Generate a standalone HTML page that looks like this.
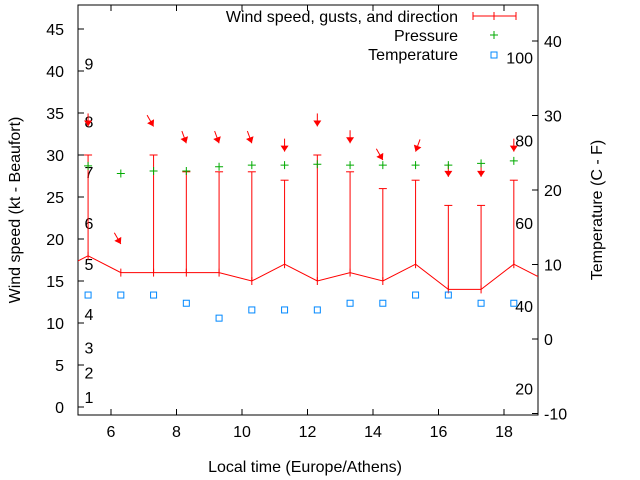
<!DOCTYPE html>
<html><head><meta charset="utf-8">
<style>
html,body{margin:0;padding:0;background:#fff;}
svg{display:block;font-family:"Liberation Sans",sans-serif;}
</style></head>
<body>
<svg id="chart" width="640" height="480" viewBox="0 0 640 480" xmlns="http://www.w3.org/2000/svg"></svg>
<script>
const hours=[4.3,5.3,6.3,7.3,8.3,9.3,10.3,11.3,12.3,13.3,14.3,15.3,16.3,17.3,18.3,19.3];
const windSpeed=[16,18,16,16,16,16,15,17,15,16,15,17,14,14,17,15];
const gusts=[null,30,null,30,28,28,28,27,30,28,26,27,24,24,27,null];
const direction=[null,0,330,330,340,340,340,0,0,0,330,20,0,0,0,null];
const pressure=[null,28.7,27.8,28.1,28.1,28.6,28.8,28.8,28.9,28.8,28.8,28.8,28.8,29.0,29.3,null];
const temperature=[null,5.9,5.9,5.9,4.8,2.8,3.9,3.9,3.9,4.8,4.8,5.9,5.9,4.8,4.8,null];
const xTicks=[6,8,10,12,14,16,18];
const yTicks=[0,5,10,15,20,25,30,35,40,45];
const y2Ticks=[-10,0,10,20,30,40];
const beaufort=[1,2,3,4,5,6,7,8,9];
const beaufortPos=[1.2,4.1,7.1,11.1,17,21.9,28,34,40.9];
const fahrenheit=[20,40,60,80,100];

const L=78,R=538,T=5,B=415;
const FS=16;
const X=h=>78.25+(h-5)*32.75;
const Y=v=>407-v*8.4;
const Y2=c=>339-c*7.45;
const svg=document.getElementById('chart');
const NS='http://www.w3.org/2000/svg';
function add(tag,attrs,parent,text){const e=document.createElementNS(NS,tag);for(const k in attrs)e.setAttribute(k,attrs[k]);if(text!==undefined)e.textContent=text;(parent||svg).appendChild(e);return e;}

const defs=add('defs',{});
const cp=add('clipPath',{id:'clip'},defs);
add('rect',{x:L,y:T,width:R-L,height:B-T},cp);

const frame=add('rect',{x:L,y:T,width:R-L,height:B-T,fill:'none',stroke:'#000','stroke-width':1});



const gx=add('g',{});


xTicks.forEach(t=>{
  const x=X(t);
  add('line',{x1:x,y1:B,x2:x,y2:B-6,stroke:'#000'},gx);
  add('line',{x1:x,y1:T,x2:x,y2:T+6,stroke:'#000'},gx);
  const tx=add('text',{x:x,y:B+22,'font-size':FS,'text-anchor':'middle'},gx,String(t));
  
  
});
const gy=add('g',{});


yTicks.forEach(t=>{
  const y=Y(t);
  add('line',{x1:L,y1:y,x2:L+6,y2:y,stroke:'#000'},gy);
  const tx=add('text',{x:64,y:y+6,'font-size':FS,'text-anchor':'end'},gy,String(t));
  
  
});
const gy2=add('g',{});


y2Ticks.forEach(t=>{
  const y=Y2(t);
  add('line',{x1:R,y1:y,x2:R-6,y2:y,stroke:'#000'},gy2);
  const tx=add('text',{x:544,y:y+6,'font-size':FS,'text-anchor':'start'},gy2,String(t));
  
  
});
beaufort.forEach((b,i)=>{
  const tx=add('text',{x:89,y:Y(beaufortPos[i])+6,'font-size':FS,'text-anchor':'middle'},null,String(b));
  
  
});
fahrenheit.forEach(f=>{
  const c=(f-32)*5/9;
  const tx=add('text',{x:533,y:Y2(c)+6,'font-size':FS,'text-anchor':'end'},null,String(f));
  
  
});
let t1=add('text',{x:305,y:472,'font-size':FS,'text-anchor':'middle'},null,'Local time (Europe/Athens)');


t1=add('text',{x:0,y:0,'font-size':FS,'text-anchor':'middle',transform:'translate(20,210) rotate(-90)'},null,'Wind speed (kt - Beaufort)');


t1=add('text',{x:0,y:0,'font-size':FS,'text-anchor':'middle',transform:'translate(602,210) rotate(-90)'},null,'Temperature (C - F)');



const g=add('g',{'clip-path':'url(#clip)'});
const pts=hours.map((h,i)=>X(h)+','+Y(windSpeed[i])).join(' ');
const wl=add('polyline',{points:pts,fill:'none',stroke:'#f00','stroke-width':1},g);


hours.forEach((h,i)=>{
  const x=X(h);
  const tk=add('line',{x1:x,y1:Y(windSpeed[i])-4,x2:x,y2:Y(windSpeed[i])+4,stroke:'#f00'},g);
  
  
  if(gusts[i]!=null){
    const gl=add('line',{x1:x,y1:Y(windSpeed[i]),x2:x,y2:Y(gusts[i]),stroke:'#f00'},g);
    
    
    add('line',{x1:x-4,y1:Y(gusts[i]),x2:x+4,y2:Y(gusts[i]),stroke:'#f00'},g);
  }
  if(direction[i]!=null){
    const base=gusts[i]!=null?gusts[i]:windSpeed[i];
    const hx=x, hy=Y(base+3.4);
    const a=direction[i]*Math.PI/180;
    const dx=-Math.sin(a), dy=Math.cos(a);
    const len=13;
    const sx=hx-dx*len, sy=hy-dy*len;
    const ag=add('g',{},g);
    
    
    add('line',{x1:sx,y1:sy,x2:hx,y2:hy,stroke:'#f00'},ag);
    const px=-dy,py=dx;
    const bx=hx-dx*6,by=hy-dy*6;
    add('polygon',{points:`${hx},${hy} ${bx+px*4},${by+py*4} ${bx-px*4},${by-py*4}`,fill:'#f00'},ag);
  }
  if(pressure[i]!=null){
    const y=Y(pressure[i]);
    const pg=add('path',{d:`M${x-4},${y}H${x+4}M${x},${y-4}V${y+4}`,stroke:'#0a0','stroke-width':1},g);
    
    
  }
  if(temperature[i]!=null){
    const y=Y2(temperature[i]);
    const sq=add('rect',{x:x-3,y:y-3,width:6,height:6,fill:'none',stroke:'#08f','stroke-width':1},g);
    
    
  }
});

const lg=add('g',{});


let e=add('text',{x:458,y:22,'font-size':FS,'text-anchor':'end'},lg,'Wind speed, gusts, and direction');


add('path',{d:'M473,16H516M473,12V20M494,12V20M516,12V20',stroke:'#f00'},lg);
e=add('text',{x:458,y:41,'font-size':FS,'text-anchor':'end'},lg,'Pressure');


add('path',{d:'M490,35H498M494,31V39',stroke:'#0a0'},lg);
e=add('text',{x:458,y:60,'font-size':FS,'text-anchor':'end'},lg,'Temperature');


add('rect',{x:491,y:52,width:6,height:6,fill:'none',stroke:'#08f'},lg);
</script>
</body></html>
